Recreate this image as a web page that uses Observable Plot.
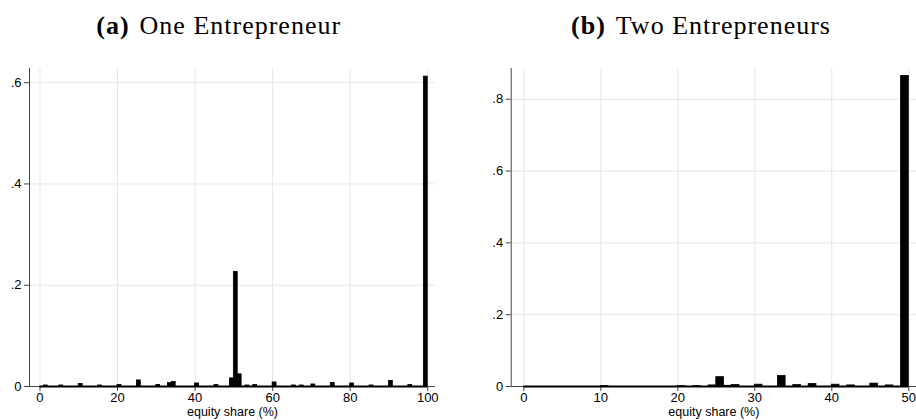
<!DOCTYPE html>
<html><head><meta charset="utf-8">
<script src="https://cdn.jsdelivr.net/npm/d3@7"></script>
<script src="https://cdn.jsdelivr.net/npm/@observablehq/plot@0.6"></script>
<style>
body{margin:0;background:#fff;}
#wrap{position:relative;width:916px;height:420px;overflow:hidden;background:#fff;}
.title{position:absolute;top:13px;font-family:"Liberation Serif","Times New Roman",serif;font-size:26px;line-height:26px;white-space:nowrap;transform:translateX(-50%);letter-spacing:1px;color:#000;}
.title b{margin-right:10px;}
.panel{position:absolute;top:50px;}
</style></head>
<body><div id="wrap">
<div class="title" id="ta" style="left:218.7px"></div>
<div class="title" id="tb" style="left:701px"></div>
<div class="panel" id="pa" style="left:0px"></div>
<div class="panel" id="pb" style="left:458px"></div>
</div>
<script>
// ---- data ----
const panelLetters = ["(a)", "(b)"];
const panelTitles = ["One Entrepreneur", "Two Entrepreneurs"];
const xLabel = "equity share (%)";
const binWidth = 1;

// Panel (a): bin start (%) and fraction
const oneBins   = [1, 5, 10, 15, 20, 25, 30, 33, 34, 40, 45, 49, 50, 51, 53, 55, 60, 65, 67, 70, 75, 80, 85, 90, 95, 99];
const oneShares = [0.002, 0.002, 0.005, 0.002, 0.003, 0.012, 0.003, 0.007, 0.009, 0.006, 0.003, 0.016, 0.226, 0.024, 0.002, 0.003, 0.008, 0.002, 0.002, 0.004, 0.007, 0.006, 0.002, 0.011, 0.003, 0.612];
const oneRange  = [0, 100];
const oneXTicks = [0, 20, 40, 60, 80, 100];
const oneYTicks = [0, 0.2, 0.4, 0.6];

// Panel (b)
const twoBins   = [10, 20, 22, 24, 25, 26, 27, 30, 33, 35, 37, 40, 42, 45, 47, 49];
const twoShares = [0.001, 0.001, 0.001, 0.003, 0.026, 0.002, 0.004, 0.005, 0.029, 0.004, 0.007, 0.005, 0.003, 0.008, 0.003, 0.865];
const twoRange  = [0, 50];
const twoXTicks = [0, 10, 20, 30, 40, 50];
const twoYTicks = [0, 0.2, 0.4, 0.6, 0.8];

// ---- drawing ----
document.getElementById("ta").innerHTML = `<b>${panelLetters[0]}</b>${panelTitles[0]}`;
document.getElementById("tb").innerHTML = `<b>${panelLetters[1]}</b>${panelTitles[1]}`;

const fmt = d => d === 0 ? "0" : d3.format(".1f")(d).replace(/^0/, "");

function panel(bins, shares, range, xDomain, yDomain, xTicks, yTicks, marginLeft, marginRight) {
  const bars = bins.map((b, i) => ({x1: b, x2: b + binWidth, y: shares[i]}));
  const base = [{x1: range[0], x2: range[1]}];
  return Plot.plot({
    width: 458, height: 370,
    marginLeft, marginRight, marginTop: 18, marginBottom: 34,
    x: {domain: xDomain},
    y: {domain: yDomain},
    style: {fontFamily: "'Liberation Sans', Arial, sans-serif", fontSize: "13px", color: "#000", background: "#fff", overflow: "visible"},
    marks: [
      Plot.gridX(xTicks, {stroke: "#e6e6e6", strokeOpacity: 1}),
      Plot.gridY(yTicks.filter(d => d > 0), {stroke: "#e6e6e6", strokeOpacity: 1}),
      Plot.axisX({ticks: xTicks, tickSize: 5, tickPadding: 1, fontSize: 13, label: null, stroke: "#444"}),
      Plot.axisX({ticks: [], tickSize: 0, fontSize: 12.5, label: xLabel, labelAnchor: "center", labelArrow: "none", labelOffset: 29}),
      Plot.axisY({ticks: yTicks, tickSize: 5, tickPadding: 3, fontSize: 13, tickFormat: fmt, label: null, stroke: "#444"}),
      Plot.ruleX([xDomain[0]], {stroke: "#444", strokeWidth: 1}),
      Plot.ruleY([0], {stroke: "#444", strokeWidth: 1}),
      Plot.rect(bars, {x1: "x1", x2: "x2", y1: 0, y2: "y", fill: "#000", stroke: "#000", strokeWidth: 0.8}),
      Plot.ruleY(base, {x1: "x1", x2: "x2", y: 0, stroke: "#000", strokeWidth: 2})
    ]
  });
}

document.getElementById("pa").append(
  panel(oneBins, oneShares, oneRange, [-2.7, 102], [0, 0.628], oneXTicks, oneYTicks, 29, 23)
);
document.getElementById("pb").append(
  panel(twoBins, twoShares, twoRange, [-1.64, 51], [0, 0.8856], twoXTicks, twoYTicks, 52.7, 0)
);
</script>
</body></html>
